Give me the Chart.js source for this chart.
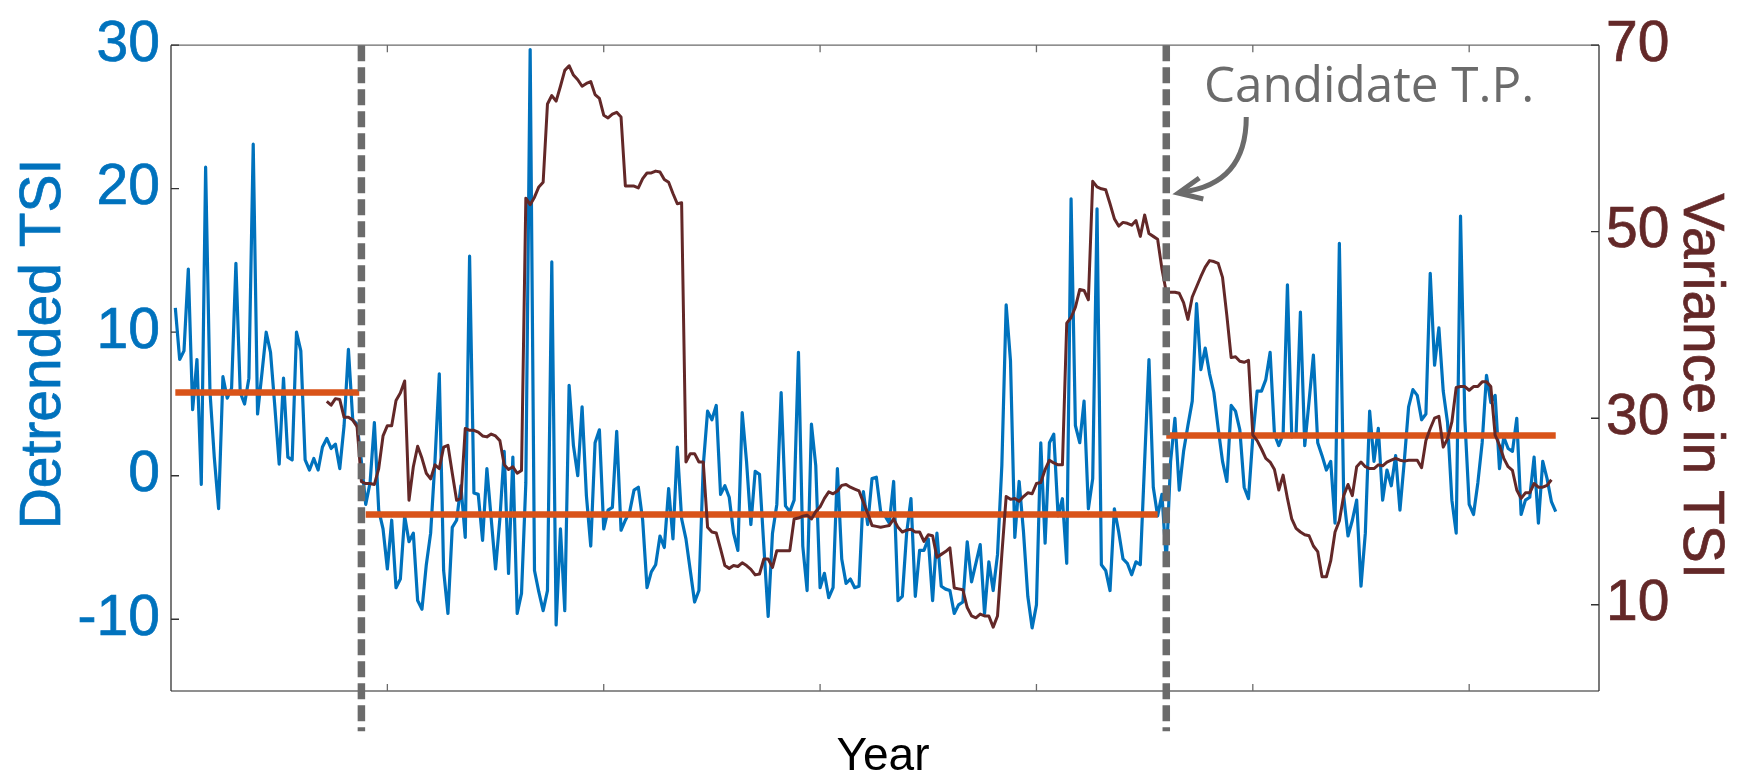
<!DOCTYPE html>
<html lang="en">
<head>
  <meta charset="UTF-8">
  <title>Detrended TSI and variance</title>
  <script src="https://cdn.jsdelivr.net/npm/chart.js"></script>
  <style>
    html, body {
      margin: 0;
      padding: 0;
      background: #ffffff;
    }
    canvas {
      display: block;
    }
  </style>
</head>
<body>
  <canvas id="tsi-chart" width="1739" height="776"></canvas>

  <script>
    // Detrended TSI, one value per year starting at tsiStartYear
    const tsiStartYear = 1601;
    const detrendedTsi = [
      11.7, 8.1, 8.7, 14.4, 4.6, 8.1, -0.6, 21.5, 5.9, 1.3,
      -2.3, 6.9, 5.4, 6.1, 14.8, 5.8, 5.0, 6.8, 23.1, 4.3,
      7.1, 10.0, 8.6, 4.8, 0.8, 6.8, 1.3, 1.1, 10.0, 8.7,
      1.1, 0.4, 1.2, 0.4, 2.0, 2.6, 1.9, 2.2, 0.5, 3.5,
      8.8, 3.9, 3.6, 1.0, -2.0, -0.5, 3.7, -2.4, -3.7, -6.5,
      -3.1, -7.8, -7.2, -2.8, -4.6, -4.0, -8.7, -9.3, -6.2, -4.0,
      1.0, 7.1, -6.6, -9.6, -3.6, -3.1, -0.7, -4.3, 15.3, -1.2,
      -1.3, -4.5, 0.5, -3.0, -6.5, -3.0, 1.7, -6.8, 1.3, -9.6,
      -8.2, -0.5, 29.7, -6.6, -8.1, -9.4, -8.0, 14.9, -10.4, -3.7,
      -9.4, 6.3, 2.1, 0.0, 4.8, -1.4, -4.9, 2.3, 3.2, -3.7,
      -2.4, -2.2, 3.1, -3.8, -3.1, -2.5, -1.0, -0.8, -3.1, -7.8,
      -6.7, -6.2, -4.2, -5.0, -0.9, -4.4, 2.0, -3.0, -4.4, -6.6,
      -8.8, -8.0, 0.7, 4.5, 3.9, 4.9, -1.3, -0.7, -1.5, -4.0,
      -5.2, 4.4, 1.0, -3.4, 0.3, 0.1, -4.9, -9.8, -4.0, -2.0,
      5.8, -2.1, -2.5, -1.7, 8.6, -4.9, -8.0, 3.6, 0.7, -7.8,
      -6.8, -8.5, -7.8, 0.5, -5.8, -7.5, -7.2, -7.8, -7.7, -1.1,
      -3.4, -0.2, -0.1, -2.5, -2.8, -3.3, -0.4, -8.7, -8.4, -4.0,
      -1.6, -8.4, -5.2, -5.2, -4.4, -8.7, -4.0, -7.7, -7.9, -8.0,
      -9.6, -9.0, -8.8, -4.6, -7.4, -6.1, -4.8, -9.6, -6.0, -8.0,
      -5.5, 0.7, 11.9, 8.0, -4.3, -0.4, -3.9, -8.4, -10.6, -9.0,
      2.3, -4.7, 2.3, 2.9, -2.8, -1.6, -6.1, 19.3, 3.5, 2.3,
      5.2, -2.3, -0.2, 18.6, -6.2, -6.6, -8.0, -2.3, -3.9, -5.8,
      -6.1, -6.9, -6.0, -6.2, 1.0, 8.1, -0.8, -2.8, -1.3, -6.0,
      1.0, 4.0, -1.0, 1.7, 3.5, 5.2, 12.0, 7.4, 8.9, 7.1,
      5.8, 3.3, 1.0, -0.4, 4.9, 4.5, 3.2, -0.8, -1.6, 2.7,
      5.9, 5.9, 6.7, 8.6, 2.9, 2.1, 2.9, 13.3, 2.7, 2.9,
      11.4, 2.1, 5.2, 8.4, 2.3, 1.4, 0.4, 1.0, -3.3, 16.2,
      -1.4, -4.2, -3.1, -1.7, -7.7, -4.0, 4.5, 1.0, 3.3, -1.7,
      0.4, -0.7, 1.4, -2.4, 1.0, 4.8, 6.0, 5.6, 3.9, 4.3,
      14.1, 7.7, 10.3, 5.9, 3.7, -1.7, -4.0, 18.1, 3.9, -2.0,
      -2.7, -0.5, 2.3, 7.0, 5.1, 5.6, 0.5, 2.7, 1.9, 1.7,
      4.0, -2.7, -1.7, -1.5, 1.3, -3.3, 1.0, -0.2, -1.8, -2.5
    ];

    // Running variance (right axis), one value per year starting at varianceStartYear
    const varianceStartYear = 1636;
    const varianceTsi = [
      31.8, 31.4, 32.1, 32.0, 30.1, 30.1, 29.8, 29.1, 23.2, 23.0,
      23.0, 22.9, 24.6, 28.1, 29.2, 29.2, 31.9, 32.7, 34.0, 21.2,
      24.8, 27.0, 25.7, 24.1, 23.5, 25.0, 24.6, 26.9, 27.1, 24.1,
      21.2, 21.4, 28.9, 28.7, 28.7, 28.5, 28.1, 28.0, 28.3, 28.1,
      27.6, 25.0, 24.5, 24.8, 24.1, 24.4, 53.6, 52.9, 53.7, 54.8,
      55.3, 63.7, 64.6, 64.0, 65.6, 67.3, 67.8, 66.8, 66.3, 65.6,
      65.9, 66.1, 64.7, 64.3, 62.5, 62.2, 62.6, 62.8, 62.3, 54.9,
      54.9, 54.9, 54.7, 55.7, 56.3, 56.3, 56.5, 56.4, 55.6, 55.3,
      54.1, 53.0, 53.1, 25.3, 26.2, 26.2, 25.3, 25.3, 18.3, 17.8,
      17.7, 16.0, 14.2, 13.9, 14.2, 14.1, 14.5, 14.2, 13.8, 13.2,
      13.3, 14.9, 14.9, 14.0, 15.8, 15.8, 15.8, 15.8, 19.2, 19.3,
      19.5, 19.6, 19.2, 20.0, 20.5, 21.4, 22.1, 21.9, 22.2, 22.8,
      22.9, 22.6, 22.4, 22.2, 21.0, 19.8, 18.5, 18.4, 18.3, 18.4,
      18.5, 19.2, 18.3, 17.8, 18.0, 18.1, 17.8, 17.8, 16.8, 17.5,
      17.4, 15.1, 15.4, 15.7, 16.1, 11.8, 11.7, 11.6, 9.7, 8.8,
      8.6, 9.0, 8.8, 8.8, 7.6, 8.8, 15.4, 21.6, 21.3, 21.4,
      21.1, 21.6, 22.0, 21.9, 23.0, 23.1, 24.5, 25.5, 25.2, 25.0,
      25.0, 40.2, 40.8, 41.9, 43.8, 43.7, 42.7, 55.4, 54.8, 54.6,
      54.5, 53.0, 51.4, 50.6, 51.0, 50.9, 50.7, 51.2, 49.5, 51.8,
      49.8, 49.5, 49.2, 46.0, 43.5, 43.5, 43.5, 43.4, 42.4, 40.6,
      43.0, 44.1, 45.2, 46.2, 46.9, 46.8, 46.6, 45.1, 41.0, 36.5,
      36.6, 36.1, 36.0, 36.2, 28.2, 27.6, 26.7, 25.7, 25.3, 24.5,
      22.3, 23.9, 21.4, 19.2, 18.2, 17.8, 17.5, 17.4, 16.3, 15.7,
      13.0, 13.0, 14.7, 17.8, 19.0, 21.7, 22.9, 21.7, 24.8, 25.3,
      24.8, 24.6, 24.6, 25.0, 24.9, 25.3, 25.5, 25.7, 25.5, 25.4,
      25.5, 25.5, 25.5, 24.7, 27.6, 28.9, 30.0, 30.2, 26.9, 27.8,
      29.6, 33.3, 33.4, 33.4, 33.0, 33.4, 33.4, 33.9, 33.9, 33.4,
      28.2, 27.1, 25.7, 24.8, 24.4, 22.3, 21.4, 22.0, 22.0, 23.0,
      22.6, 22.6, 22.8, 23.4
    ];

    // Regime means between change points
    const segmentStart = [1601, 1645, 1830];
    const segmentEnd = [1643.5, 1828, 1920];
    const segmentMean = [5.8, -2.7, 2.8];

    // Change points (dashed lines)
    const changeYears = [1644, 1830];

    // Tick values
    const yearTicks = [1650, 1700, 1750, 1800, 1850, 1900];
    const leftTicks = [-10, 0, 10, 20, 30];
    const rightTicks = [10, 30, 50, 70];

    const BLUE = '#0072BD';
    const ORANGE = '#D95319';
    const BROWN = '#632828';
    const GREY = '#6B6B6B';
    const FONT = '"Liberation Sans", Arial, Helvetica, sans-serif';

    const tsiPoints = detrendedTsi.map((v, i) => ({ x: tsiStartYear + i, y: v }));
    const variancePoints = varianceTsi.map((v, i) => ({ x: varianceStartYear + i, y: v }));
    const meanPoints = segmentMean.flatMap((m, i) => [
      { x: segmentStart[i], y: m },
      { x: segmentEnd[i], y: m },
      { x: segmentEnd[i], y: null }
    ]);
    const dashPoints = changeYears.flatMap(yr => [
      { x: yr, y: 30 },
      { x: yr, y: -17.8 },
      { x: yr, y: null }
    ]);

    function heavyText(ctx, text, x, y, color, stroke) {
      ctx.fillStyle = color;
      ctx.fillText(text, x, y);
      if (stroke) {
        ctx.strokeStyle = color;
        ctx.lineWidth = stroke;
        ctx.strokeText(text, x, y);
      }
    }

    // box, inward ticks, axis titles and the annotation
    const decorPlugin = {
      id: 'decor',
      beforeDatasetsDraw(chart) {
        const { ctx, chartArea: a, scales } = chart;
        ctx.save();
        ctx.lineWidth = 1.3;
        ctx.strokeStyle = '#6b6b6b';
        ctx.beginPath();
        ctx.moveTo(a.left, a.top); ctx.lineTo(a.right, a.top);
        ctx.moveTo(a.left, a.bottom); ctx.lineTo(a.right, a.bottom);
        yearTicks.forEach(v => {
          const px = scales.x.getPixelForValue(v);
          ctx.moveTo(px, a.bottom); ctx.lineTo(px, a.bottom - 7);
          ctx.moveTo(px, a.top); ctx.lineTo(px, a.top + 7);
        });
        ctx.stroke();
        ctx.strokeStyle = '#333333';
        ctx.beginPath();
        ctx.moveTo(a.left, a.top); ctx.lineTo(a.left, a.bottom);
        ctx.moveTo(a.right, a.top); ctx.lineTo(a.right, a.bottom);
        leftTicks.forEach(v => {
          const py = scales.y.getPixelForValue(v);
          ctx.moveTo(a.left, py); ctx.lineTo(a.left + 8, py);
        });
        rightTicks.forEach(v => {
          const py = scales.y1.getPixelForValue(v);
          ctx.moveTo(a.right, py); ctx.lineTo(a.right - 8, py);
        });
        ctx.stroke();
        ctx.restore();
      },
      afterDraw(chart) {
        const { ctx, scales } = chart;
        ctx.save();
        ctx.textBaseline = 'alphabetic';

        // left title
        ctx.save();
        ctx.translate(60, 344);
        ctx.rotate(-Math.PI / 2);
        ctx.font = '57px ' + FONT;
        ctx.textAlign = 'center';
        heavyText(ctx, 'Detrended TSI', 0, 0, BLUE, 0.7);
        ctx.restore();

        // right title
        ctx.save();
        ctx.translate(1684, 386);
        ctx.rotate(Math.PI / 2);
        ctx.font = '57px ' + FONT;
        ctx.textAlign = 'center';
        heavyText(ctx, 'Variance in TSI', 0, 0, BROWN, 0.7);
        ctx.restore();

        // x title
        ctx.font = '46px ' + FONT;
        ctx.textAlign = 'center';
        heavyText(ctx, 'Year', 883, 770, '#000000', 0);

        // annotation
        const label = 'Candidate T.P.';
        ctx.font = '53px "Open Sans", "Noto Sans", sans-serif';
        const w = ctx.measureText(label).width;
        const size = 53 * 330 / w;
        ctx.font = size.toFixed(1) + 'px "Open Sans", "Noto Sans", sans-serif';
        ctx.fillStyle = GREY;
        ctx.textAlign = 'left';
        ctx.fillText(label, 1204, 102);

        const dx = scales.x.getPixelForValue(changeYears[1]);
        ctx.strokeStyle = GREY;
        ctx.lineWidth = 5;
        ctx.lineCap = 'butt';
        ctx.beginPath();
        ctx.moveTo(dx + 80, 117);
        ctx.quadraticCurveTo(dx + 80, 184, dx + 16, 192);
        ctx.stroke();
        ctx.lineJoin = 'miter';
        ctx.beginPath();
        ctx.moveTo(dx + 33, 178);
        ctx.lineTo(dx + 12, 193);
        ctx.lineTo(dx + 37, 199);
        ctx.stroke();
        ctx.restore();
      }
    };

    const tickFont = { family: FONT, size: 57 };

    new Chart(document.getElementById('tsi-chart'), {
      type: 'line',
      data: {
        datasets: [
          {
            label: 'Change points',
            data: dashPoints,
            borderColor: GREY,
            borderWidth: 7.5,
            borderDash: [16, 6],
            pointRadius: 0,
            spanGaps: false,
            clip: false,
            yAxisID: 'y'
          },
          {
            label: 'Variance in TSI',
            data: variancePoints,
            borderColor: BROWN,
            borderWidth: 3,
            pointRadius: 0,
            tension: 0,
            borderJoinStyle: 'round',
            yAxisID: 'y1'
          },
          {
            label: 'Regime mean',
            data: meanPoints,
            borderColor: ORANGE,
            borderWidth: 6.5,
            pointRadius: 0,
            spanGaps: false,
            yAxisID: 'y'
          },
          {
            label: 'Detrended TSI',
            data: tsiPoints,
            borderColor: BLUE,
            borderWidth: 3.2,
            pointRadius: 0,
            tension: 0,
            borderJoinStyle: 'round',
            yAxisID: 'y'
          }
        ]
      },
      options: {
        responsive: false,
        animation: false,
        events: [],
        devicePixelRatio: 1,
        layout: { padding: { top: 43, left: 0, right: 0, bottom: 0 } },
        plugins: {
          legend: { display: false },
          tooltip: { enabled: false }
        },
        scales: {
          x: {
            type: 'linear',
            min: 1600,
            max: 1930,
            afterBuildTicks: s => { s.ticks = yearTicks.map(v => ({ value: v })); },
            afterFit: s => { s.height = 85; },
            ticks: { display: false },
            grid: { display: false, drawTicks: false },
            border: { display: false }
          },
          y: {
            position: 'left',
            min: -15,
            max: 30,
            afterBuildTicks: s => { s.ticks = leftTicks.map(v => ({ value: v })); },
            afterFit: s => { s.width = 171; },
            ticks: {
              color: BLUE,
              padding: 11,
              font: tickFont,
              textStrokeColor: BLUE,
              textStrokeWidth: 0.7
            },
            grid: { display: false, drawTicks: false },
            border: { display: false }
          },
          y1: {
            position: 'right',
            min: 0.75,
            max: 70,
            afterBuildTicks: s => { s.ticks = rightTicks.map(v => ({ value: v })); },
            afterFit: s => { s.width = 140; },
            ticks: {
              color: BROWN,
              padding: 7,
              font: tickFont,
              textStrokeColor: BROWN,
              textStrokeWidth: 0.7
            },
            grid: { display: false, drawTicks: false },
            border: { display: false }
          }
        }
      },
      plugins: [decorPlugin]
    });
  </script>
</body>
</html>
